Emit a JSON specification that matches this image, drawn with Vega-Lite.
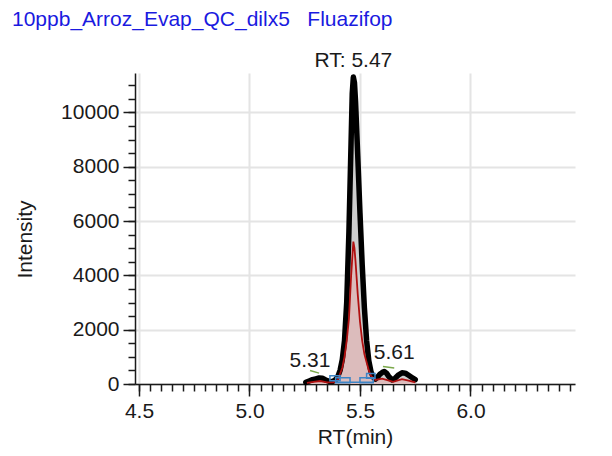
{
  "$schema": "https://vega.github.io/schema/vega-lite/v6.json",
  "width": 440,
  "height": 311,
  "autosize": {"type": "none"},
  "padding": {"left": 135, "top": 73, "right": 37, "bottom": 72},
  "background": "white",
  "config": {
    "font": "Liberation Sans",
    "view": {"stroke": null},
    "axis": {"labelFont": "Liberation Sans", "titleFont": "Liberation Sans", "labelColor": "#1a1a1a", "titleColor": "#1a1a1a", "titleFontWeight": "normal"}
  },
  "title": {
    "text": "10ppb_Arroz_Evap_QC_dilx5\u00a0\u00a0\u00a0Fluazifop",
    "anchor": "start",
    "frame": "group",
    "dx": -123,
    "dy": -16,
    "fontSize": 21,
    "fontWeight": "normal",
    "font": "Liberation Sans",
    "color": "#1a1ae0",
    "offset": 4
  },
  "datasets": {
    "black": [
      {"rt": 5.255, "intensity": 60}, {"rt": 5.27, "intensity": 110}, {"rt": 5.285, "intensity": 160},
      {"rt": 5.3, "intensity": 190}, {"rt": 5.315, "intensity": 220}, {"rt": 5.33, "intensity": 210},
      {"rt": 5.345, "intensity": 150}, {"rt": 5.36, "intensity": 100}, {"rt": 5.375, "intensity": 90},
      {"rt": 5.39, "intensity": 160}, {"rt": 5.4, "intensity": 280}, {"rt": 5.41, "intensity": 500},
      {"rt": 5.42, "intensity": 900}, {"rt": 5.43, "intensity": 1600}, {"rt": 5.44, "intensity": 3000},
      {"rt": 5.45, "intensity": 5600}, {"rt": 5.46, "intensity": 9000}, {"rt": 5.465, "intensity": 10700},
      {"rt": 5.47, "intensity": 11300}, {"rt": 5.475, "intensity": 11100}, {"rt": 5.48, "intensity": 10400},
      {"rt": 5.49, "intensity": 8400}, {"rt": 5.5, "intensity": 6300}, {"rt": 5.51, "intensity": 4400},
      {"rt": 5.52, "intensity": 2800}, {"rt": 5.53, "intensity": 1600}, {"rt": 5.54, "intensity": 850},
      {"rt": 5.55, "intensity": 450}, {"rt": 5.56, "intensity": 250}, {"rt": 5.57, "intensity": 180},
      {"rt": 5.58, "intensity": 260}, {"rt": 5.59, "intensity": 360}, {"rt": 5.6, "intensity": 420},
      {"rt": 5.61, "intensity": 460}, {"rt": 5.62, "intensity": 400}, {"rt": 5.63, "intensity": 280},
      {"rt": 5.645, "intensity": 150}, {"rt": 5.66, "intensity": 220}, {"rt": 5.675, "intensity": 340},
      {"rt": 5.69, "intensity": 410}, {"rt": 5.705, "intensity": 400}, {"rt": 5.72, "intensity": 320},
      {"rt": 5.735, "intensity": 240}, {"rt": 5.75, "intensity": 160}
    ],
    "red": [
      {"rt": 5.26, "intensity": 40}, {"rt": 5.29, "intensity": 80}, {"rt": 5.32, "intensity": 110},
      {"rt": 5.35, "intensity": 60}, {"rt": 5.38, "intensity": 60}, {"rt": 5.4, "intensity": 150},
      {"rt": 5.42, "intensity": 600}, {"rt": 5.43, "intensity": 1000}, {"rt": 5.44, "intensity": 1600},
      {"rt": 5.45, "intensity": 2400}, {"rt": 5.46, "intensity": 4000}, {"rt": 5.47, "intensity": 5240},
      {"rt": 5.475, "intensity": 5000}, {"rt": 5.48, "intensity": 4500}, {"rt": 5.49, "intensity": 3300},
      {"rt": 5.5, "intensity": 2300}, {"rt": 5.51, "intensity": 1600}, {"rt": 5.52, "intensity": 1100},
      {"rt": 5.53, "intensity": 800}, {"rt": 5.54, "intensity": 500}, {"rt": 5.55, "intensity": 300},
      {"rt": 5.57, "intensity": 150}, {"rt": 5.6, "intensity": 200}, {"rt": 5.62, "intensity": 150},
      {"rt": 5.65, "intensity": 80}, {"rt": 5.69, "intensity": 180}, {"rt": 5.72, "intensity": 120},
      {"rt": 5.75, "intensity": 60}
    ],
    "boxes": [
      {"x1": 5.364, "x2": 5.41, "y1": 120, "y2": 300},
      {"x1": 5.39, "x2": 5.455, "y1": 50, "y2": 230},
      {"x1": 5.53, "x2": 5.568, "y1": 210, "y2": 390},
      {"x1": 5.5, "x2": 5.56, "y1": 50, "y2": 230}
    ],
    "baseline": [
      {"x1": 5.39, "x2": 5.56, "y1": 60, "y2": 60}
    ],
    "green": [
      {"x1": 5.274, "x2": 5.315, "y1": 500, "y2": 400},
      {"x1": 5.604, "x2": 5.655, "y1": 640, "y2": 590}
    ]
  },
  "resolve": {"axis": {"x": "independent", "y": "independent"}},
  "layer": [
    {
      "data": {"name": "black"},
      "mark": {"type": "area", "color": "#cdcdcd"},
      "encoding": {
        "x": {"field": "rt", "type": "quantitative",
          "scale": {"domain": [4.482, 6.473], "nice": false, "zero": false},
          "axis": {"orient": "bottom", "title": "RT(min)", "values": [4.5, 5.0, 5.5, 6.0], "format": ".1f",
            "labelFontSize": 21, "titleFontSize": 21, "tickSize": 12, "tickWidth": 1.5, "tickColor": "#1a1a1a",
            "domainColor": "#1a1a1a", "domainWidth": 1.5, "labelPadding": 4, "labelFlush": false,
            "grid": true, "gridColor": "#e4e4e4", "gridWidth": 2,
            "titleBaseline": "alphabetic", "titleY": 59}},
        "y": {"field": "intensity", "type": "quantitative",
          "scale": {"domain": [0, 11450], "nice": false},
          "axis": {"orient": "left", "title": "Intensity", "values": [0, 2000, 4000, 6000, 8000, 10000], "format": "d",
            "labelFontSize": 21, "titleFontSize": 21, "tickSize": 12, "tickWidth": 1.5, "tickColor": "#1a1a1a",
            "domainColor": "#1a1a1a", "domainWidth": 1.5, "labelPadding": 4, "labelFlush": false,
            "grid": true, "gridColor": "#e4e4e4", "gridWidth": 2,
            "titleX": -100, "titleY": 166}}
      }
    },
    {
      "data": {"name": "red"},
      "mark": {"type": "area", "color": "#dcbcbc"},
      "encoding": {
        "x": {"field": "rt", "type": "quantitative", "axis": null},
        "y": {"field": "intensity", "type": "quantitative", "axis": null}
      }
    },
    {
      "data": {"name": "black"},
      "mark": {"type": "line", "color": "#000000", "strokeWidth": 5.5, "strokeJoin": "round", "strokeCap": "round"},
      "encoding": {
        "x": {"field": "rt", "type": "quantitative",
          "axis": {"orient": "bottom", "title": null, "labels": false, "domain": false, "grid": false,
            "tickSize": 7, "tickWidth": 1.5, "tickColor": "#1a1a1a",
            "values": [4.5,4.55,4.6,4.65,4.7,4.75,4.8,4.85,4.9,4.95,5,5.05,5.1,5.15,5.2,5.25,5.3,5.35,5.4,5.45,5.5,5.55,5.6,5.65,5.7,5.75,5.8,5.85,5.9,5.95,6,6.05,6.1,6.15,6.2,6.25,6.3,6.35,6.4,6.45]}},
        "y": {"field": "intensity", "type": "quantitative",
          "axis": {"orient": "left", "title": null, "labels": false, "domain": false, "grid": false,
            "tickSize": 7, "tickWidth": 1.5, "tickColor": "#1a1a1a",
            "values": [0,500,1000,1500,2000,2500,3000,3500,4000,4500,5000,5500,6000,6500,7000,7500,8000,8500,9000,9500,10000,10500,11000]}}
      }
    },
    {
      "data": {"name": "red"},
      "mark": {"type": "line", "color": "#b01010", "strokeWidth": 1.8},
      "encoding": {
        "x": {"field": "rt", "type": "quantitative", "axis": null},
        "y": {"field": "intensity", "type": "quantitative", "axis": null}
      }
    },
    {
      "data": {"name": "boxes"},
      "mark": {"type": "rect", "filled": false, "stroke": "#3d85c6", "strokeWidth": 1.5},
      "encoding": {
        "x": {"field": "x1", "type": "quantitative", "axis": null},
        "x2": {"field": "x2"},
        "y": {"field": "y1", "type": "quantitative", "axis": null},
        "y2": {"field": "y2"}
      }
    },
    {
      "data": {"name": "baseline"},
      "mark": {"type": "rule", "stroke": "#3d85c6", "strokeWidth": 1.5},
      "encoding": {
        "x": {"field": "x1", "type": "quantitative", "axis": null},
        "x2": {"field": "x2"},
        "y": {"field": "y1", "type": "quantitative", "axis": null},
        "y2": {"field": "y2"}
      }
    },
    {
      "data": {"name": "green"},
      "mark": {"type": "rule", "stroke": "#7aa84a", "strokeWidth": 1.5},
      "encoding": {
        "x": {"field": "x1", "type": "quantitative", "axis": null},
        "x2": {"field": "x2"},
        "y": {"field": "y1", "type": "quantitative", "axis": null},
        "y2": {"field": "y2"}
      }
    },
    {
      "data": {"values": [{"rt": 5.47, "intensity": 11300, "label": "RT: 5.47"}]},
      "mark": {"type": "text", "fontSize": 21, "baseline": "alphabetic", "dy": -10, "color": "#1a1a1a"},
      "encoding": {
        "x": {"field": "rt", "type": "quantitative", "axis": null},
        "y": {"field": "intensity", "type": "quantitative", "axis": null},
        "text": {"field": "label"}
      }
    },
    {
      "data": {"values": [{"rt": 5.31, "intensity": 220, "label": "5.31"}]},
      "mark": {"type": "text", "fontSize": 21, "baseline": "alphabetic", "dx": -8, "dy": -11, "color": "#1a1a1a"},
      "encoding": {
        "x": {"field": "rt", "type": "quantitative", "axis": null},
        "y": {"field": "intensity", "type": "quantitative", "axis": null},
        "text": {"field": "label"}
      }
    },
    {
      "data": {"values": [{"rt": 5.61, "intensity": 460, "label": "5.61"}]},
      "mark": {"type": "text", "fontSize": 21, "baseline": "alphabetic", "dx": 10, "dy": -13, "color": "#1a1a1a"},
      "encoding": {
        "x": {"field": "rt", "type": "quantitative", "axis": null},
        "y": {"field": "intensity", "type": "quantitative", "axis": null},
        "text": {"field": "label"}
      }
    }
  ]
}
